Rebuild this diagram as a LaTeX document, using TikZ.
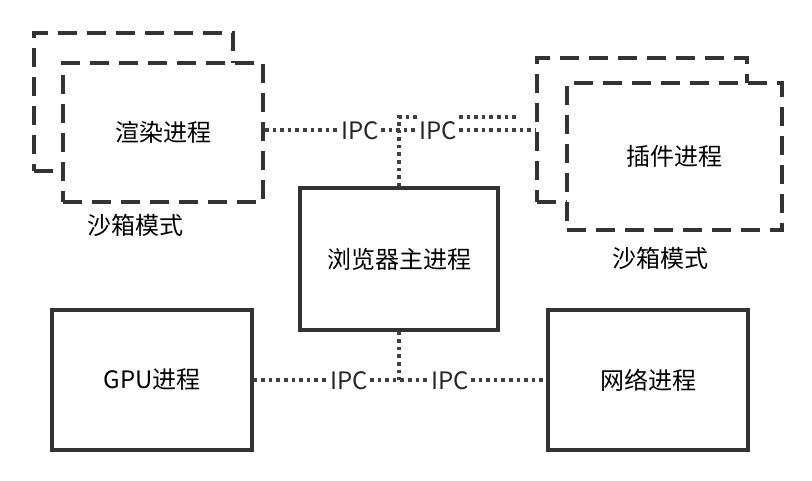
\documentclass[tikz,border=0pt]{standalone}
\usepackage{fontspec}
\setmainfont{Noto Sans CJK SC}
\usetikzlibrary{positioning}

\begin{document}
\begin{tikzpicture}[
    x = 1pt, y = -1pt,
    font = \fontsize{24}{28}\selectfont,
    proc/.style  = {draw = black!80, line width = 3.2pt, fill = white,
                    minimum width = 200pt, minimum height = 140pt,
                    inner sep = 0pt},
    sbox/.style  = {proc, line width = 4pt,
                    dash pattern = on 19pt off 10pt},
    ipc/.style   = {draw = black!75, line width = 3.6pt,
                    dash pattern = on 3.6pt off 4pt},
    tag/.style   = {fill = white, inner sep = 2pt, text = black!85},
  ]
    \useasboundingbox (0,0) rectangle (812,480);

    %% -- sandboxed processes (back copy first, front copy on top) --
    \node[sbox, minimum width = 199pt, minimum height = 138pt]
      (renderback) at (133.5,102) {};
    \node[sbox, minimum height = 139pt] (renderer) at (163,132.5) {渲染进程};
    \node (rendersand) at (135,225) {沙箱模式};

    \node[sbox, minimum width = 210pt, minimum height = 144pt]
      (plugback) at (642,130) {};
    \node[sbox, minimum width = 215pt, minimum height = 147pt]
      (plugin) at (674.5,156.5) {插件进程};
    \node (plugsand) at (660,258) {沙箱模式};

    %% -- main processes --
    \node[proc, minimum width = 198pt, minimum height = 142pt]
      (browser) at (399,259) {浏览器主进程};
    \node[proc] (gpu) at (152,380) {GPU进程};
    \node[proc] (net) at (648,380) {网络进程};

    %% -- IPC labels and junctions --
    \node[tag] (ipc1) at (360,131) {IPC};
    \node[tag] (ipc2) at (438,131) {IPC};
    \node[tag] (ipc3) at (349,381) {IPC};
    \node[tag] (ipc4) at (450,381) {IPC};

    \coordinate (jt)   at (399,130);
    \coordinate (jtt)  at (399,117);
    \coordinate (pend) at (517,117);
    \coordinate (jb)   at (399,380);

    %% -- connectors --
    \draw[ipc] (renderer.east |- jt) -- (ipc1.west |- jt);
    \draw[ipc] (ipc1.east |- jt) -- (jt) -- (ipc2.west |- jt);
    \draw[ipc] (browser.north) -- (jtt) -- (ipc2.west |- jtt);
    \draw[ipc] (ipc2.east |- jtt) -- (pend);
    \draw[ipc] (ipc2.east |- jt) -- (plugback.west |- jt);

    \draw[ipc] (browser.south) -- (jb);
    \draw[ipc] (gpu.east |- jb) -- (ipc3.west |- jb);
    \draw[ipc] (ipc3.east |- jb) -- (jb) -- (ipc4.west |- jb);
    \draw[ipc] (ipc4.east |- jb) -- (net.west |- jb);
  \end{tikzpicture}
\end{document}
